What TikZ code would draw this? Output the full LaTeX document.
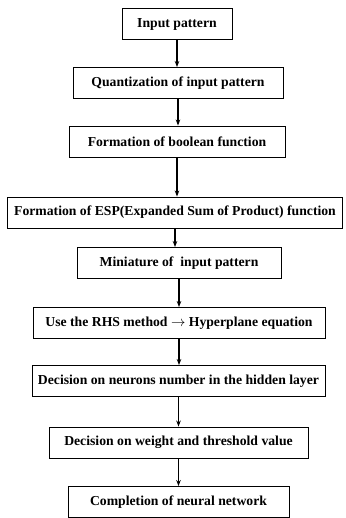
\documentclass[tikz,border=0pt]{standalone}
\usepackage{fontspec}
\setmainfont{Liberation Serif}
\usetikzlibrary{arrows.meta}
\begin{document}
\begin{tikzpicture}[x=1pt, y=-1pt,
  stepbox/.style={draw, line width=0.9pt, minimum height=31pt, inner sep=0pt,
    font=\fontsize{13.7}{15}\selectfont\bfseries},
  flow/.style={line width=1.4pt, -{Stealth[length=6pt, width=4.5pt]}}]
\useasboundingbox (0,0) rectangle (345,518);
\foreach \name/\x/\y/\w/\txt in {
  input/177/24/110/{Input pattern},
  quant/178/83/210/{Quantization of input pattern},
  bool/177/141.5/216/{Formation of boolean function},
  esp/175/212.5/335/{Formation of ESP(Expanded Sum of Product) function},
  mini/179/263/204/{Miniature of~ input pattern},
  rhs/179/323/292/{Use the RHS method $\rightarrow$ Hyperplane equation},
  neur/178.5/381/293/{Decision on neurons number in the hidden layer},
  weig/178.5/442.5/259/{Decision on weight and threshold value},
  done/178.5/502/221/{Completion of neural network}}
  \node[stepbox, minimum width=\w pt] (\name) at (\x,\y) {\txt};
% connectors
\foreach \a/\b in {input/quant, quant/bool, bool/esp, esp/mini,
                   mini/rhs, rhs/neur, neur/weig, weig/done}
  \draw[flow] (\a.south) -- (\a.south |- \b.north);
\end{tikzpicture}
\end{document}
